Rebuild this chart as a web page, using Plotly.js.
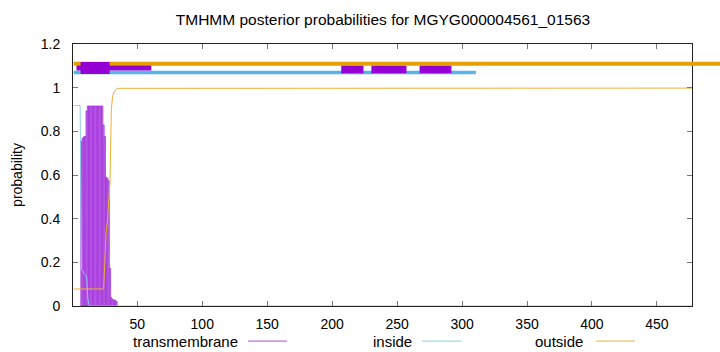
<!DOCTYPE html>
<html>
<head>
<meta charset="utf-8">
<script src="https://cdn.plot.ly/plotly-3.0.1.min.js"></script>
<style>html,body{margin:0;padding:0;background:#fff}#chart{width:720px;height:352px}</style>
</head>
<body>
<div id="chart"></div>
<script>
// ---- data ----
const tmX = [7,8,9,10,11,12,13,14,15,16,17,18,19,20,21,22,23,24,25,26,27,28,29,30,31,32,33,34];
const tmY = [0.753,0.768,0.775,0.777,0.893,0.916,0.916,0.916,0.916,0.916,0.916,0.916,0.916,0.916,0.916,0.916,0.916,0.829,0.776,0.59,0.585,0.573,0.173,0.038,0.03,0.027,0.027,0.02];

const insideX = [1,6,7,8,9,10,11,12,13,477];
const insideY = [0.918,0.918,0.165,0.16,0.15,0.14,0.134,0.03,0,0];

const outsideX = [1,24,25,26,27,28,29,30,31,32,33,34,35,477];
const outsideY = [0.078,0.078,0.2,0.34,0.39,0.5,0.57,0.9,0.96,0.98,0.99,0.994,0.997,0.998];

// predicted topology bars at top (the outside bar runs past the right border)
const outsideSegStart = [1],     outsideSegEnd = [505],   outsideSegLevel = 1.11;
const insideSegStart  = [1],     insideSegEnd  = [310.6], insideSegLevel  = 1.07;
const tmThinStart = [3.2],       tmThinEnd = [60.8],      tmThinLevel = 1.09;
const tmBoxStart  = [6.3],       tmBoxEnd  = [28.7],      tmBoxLevel  = 1.09;
const tmBox2Start = [207, 230.2, 267.3], tmBox2End = [224.1, 257.2, 291.8], tmBox2Level = 1.083;

const xTicks = [50,100,150,200,250,300,350,400,450];
const yTicks = [0,0.2,0.4,0.6,0.8,1,1.2];
const yTickText = ['0','0.2','0.4','0.6','0.8','1','1.2'];
const legendNames = ['transmembrane','inside','outside'];

const cTM = '#9400D3', cIn = '#56B4E9', cOut = '#E69F00';

function segTrace(starts, ends, level, color, width) {
  const x = [], y = [];
  for (let i = 0; i < starts.length; i++) {
    x.push(starts[i], ends[i], null);
    y.push(level, level, null);
  }
  return {type:'scatter', mode:'lines', x:x, y:y, xaxis:'x2', yaxis:'y2', line:{color:color, width:width}, hoverinfo:'skip', showlegend:false};
}

const traces = [
  {type:'bar', x:tmX, y:tmY, width:1, marker:{color:'#cd8cec', line:{color:'#9c22d8', width:0.7}}, showlegend:false},
  {type:'scatter', mode:'lines', x:outsideX, y:outsideY, line:{color:'#eeb030', width:1}, showlegend:false},
  {type:'scatter', mode:'lines', x:insideX, y:insideY, line:{color:'#8ecbee', width:1}, showlegend:false},
  segTrace(outsideSegStart, outsideSegEnd, outsideSegLevel, cOut, 4),
  segTrace(insideSegStart, insideSegEnd, insideSegLevel, cIn, 3.5),
  segTrace(tmThinStart, tmThinEnd, tmThinLevel, cTM, 5),
  segTrace(tmBoxStart, tmBoxEnd, tmBoxLevel, cTM, 12),
  segTrace(tmBox2Start, tmBox2End, tmBox2Level, cTM, 7.6)
];

const font = 'Liberation Sans, Arial, sans-serif';
const W = 647; // paper width in px (73 .. 720)
const mainFrac = 619 / W;
const legY = -0.134;
const legTextPx = [240, 414, 585];
const legLinePx0 = [248, 422, 596];
const legLinePx1 = [287, 461, 635];
const px2paper = p => (p - 73) / W;
const legColors = ['#a84ee0', '#8ecbee', '#eeb030'];

const annotations = [], shapes = [];
for (let i = 0; i < legendNames.length; i++) {
  annotations.push({xref:'paper', yref:'paper', x:px2paper(legTextPx[i]), y:legY, text:legendNames[i], showarrow:false, xanchor:'right', yanchor:'middle', font:{family:font, size:15, color:'#000'}});
  shapes.push({type:'line', xref:'paper', yref:'paper', x0:px2paper(legLinePx0[i]), x1:px2paper(legLinePx1[i]), y0:legY, y1:legY, line:{color:legColors[i], width:1}});
}

const xMax = 477, xMin = 0.5;
const x2Max = xMin + (xMax - xMin) / mainFrac;

const layout = {
  width:720, height:352,
  margin:{l:73, r:0, t:44, b:46, pad:0},
  paper_bgcolor:'#fff', plot_bgcolor:'rgba(0,0,0,0)',
  title:{text:'TMHMM posterior probabilities for MGYG000004561_01563', font:{family:font, size:15.5, color:'#000'}, xref:'container', x:383/720, xanchor:'center', y:0.943, yanchor:'middle', yref:'container'},
  bargap:0,
  showlegend:false,
  xaxis:{domain:[0, mainFrac], range:[xMin, xMax], tickvals:xTicks, ticktext:xTicks.map(String), ticks:'inside', ticklen:5, tickcolor:'#777', showline:true, linecolor:'#222', linewidth:1, mirror:'ticks', showgrid:false, zeroline:false, tickfont:{family:font, size:14, color:'#000'}, ticklabelstandoff:5},
  yaxis:{domain:[0,1], range:[0,1.2], tickvals:yTicks, ticktext:yTickText, ticks:'inside', ticklen:5, tickcolor:'#777', showline:true, linecolor:'#222', linewidth:1, mirror:'ticks', showgrid:false, zeroline:false, tickfont:{family:font, size:14, color:'#000'}, ticklabelstandoff:9,
         title:{text:'probability', font:{family:font, size:14, color:'#000'}, standoff:14}},
  xaxis2:{domain:[0,1], range:[xMin, x2Max], anchor:'y2', visible:false, showgrid:false, zeroline:false},
  yaxis2:{domain:[0,1], range:[0,1.2], anchor:'x2', visible:false, showgrid:false, zeroline:false},
  annotations:annotations,
  shapes:shapes
};

Plotly.newPlot('chart', traces, layout, {staticPlot:true, displayModeBar:false});
</script>
</body>
</html>
